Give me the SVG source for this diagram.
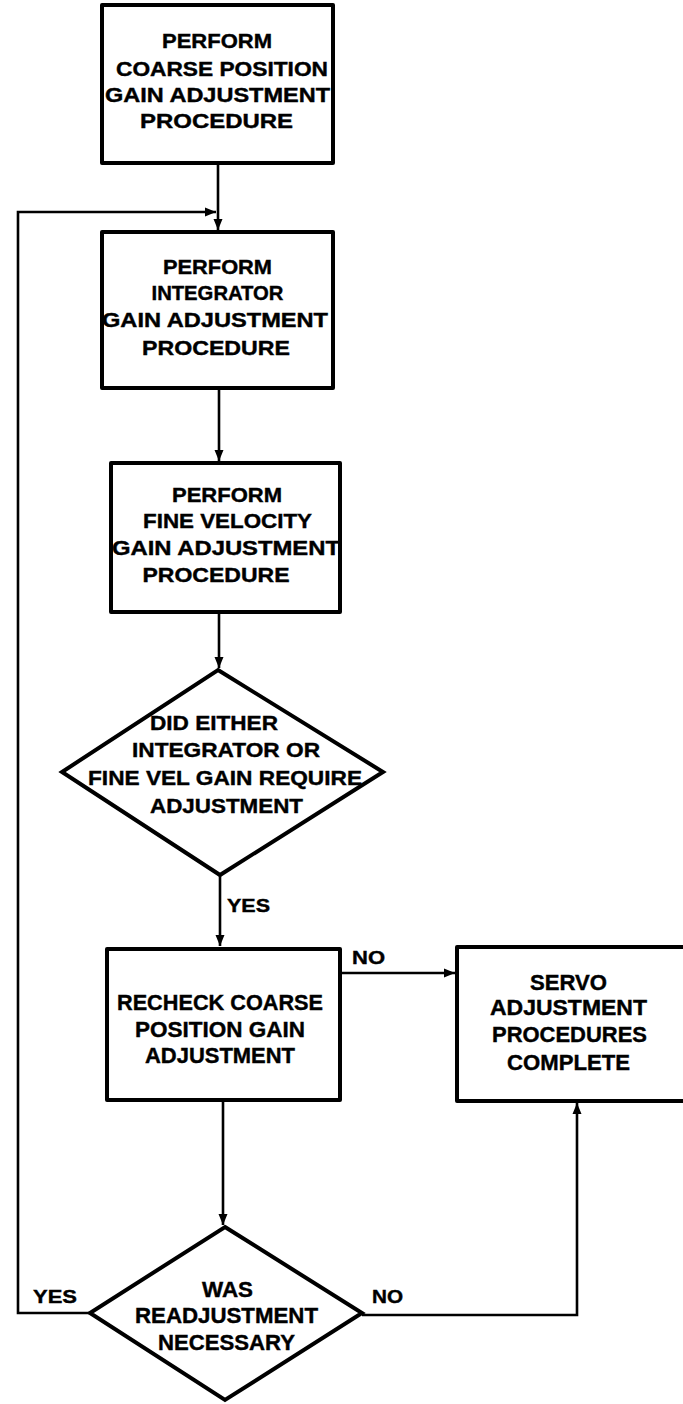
<svg xmlns="http://www.w3.org/2000/svg" width="683" height="1404" viewBox="0 0 683 1404">
<style>
  .box { fill: #fff; stroke: #000; stroke-width: 4; stroke-linejoin: round; }
  .dia { fill: #fff; stroke: #000; stroke-width: 4; stroke-linejoin: miter; }
  .conn { fill: none; stroke: #000; stroke-width: 2.6; }
  text { font-family: "Liberation Sans", Arial, sans-serif; font-weight: bold; fill: #000; stroke: #000; stroke-width: 0.4; }
  .t { font-size: 20px; text-anchor: middle; }
  .t2 { font-size: 22px; text-anchor: middle; }
  .lbl { font-size: 19px; }
</style>
<defs>
  <marker id="arr" markerUnits="userSpaceOnUse" markerWidth="12" markerHeight="11" refX="11" refY="5.5" orient="auto">
    <path d="M0,1 L11,5.5 L0,10 Z" fill="#000"/>
  </marker>
</defs>
<rect width="683" height="1404" fill="#fff"/>

<g id="connectors">
  <path class="conn" d="M218,163 V230" marker-end="url(#arr)"/>
  <path class="conn" d="M90,1313 H18 V212 H216" marker-end="url(#arr)"/>
  <path class="conn" d="M219,388 V461" marker-end="url(#arr)"/>
  <path class="conn" d="M219,612 V668" marker-end="url(#arr)"/>
  <path class="conn" d="M220,875 V946" marker-end="url(#arr)"/>
  <path class="conn" d="M223,1100 V1225" marker-end="url(#arr)"/>
  <path class="conn" d="M340,973 H455" marker-end="url(#arr)"/>
  <path class="conn" d="M362,1315 H577 V1103" marker-end="url(#arr)"/>
</g>

<g id="box1">
  <rect class="box" x="102" y="5" width="231" height="158"/>
  <text class="t" x="217" y="48" textLength="110" lengthAdjust="spacingAndGlyphs">PERFORM</text>
  <text class="t" x="222" y="76" textLength="212" lengthAdjust="spacingAndGlyphs">COARSE POSITION</text>
  <text class="t" x="217.5" y="102" textLength="225" lengthAdjust="spacingAndGlyphs">GAIN ADJUSTMENT</text>
  <text class="t" x="216.5" y="128" textLength="153" lengthAdjust="spacingAndGlyphs">PROCEDURE</text>
</g>

<g id="box2">
  <rect class="box" x="102" y="232" width="231" height="156"/>
  <text class="t" x="217.5" y="274" textLength="109" lengthAdjust="spacingAndGlyphs">PERFORM</text>
  <text class="t" x="217.5" y="300" textLength="132" lengthAdjust="spacingAndGlyphs">INTEGRATOR</text>
  <text class="t" x="215" y="327" textLength="226" lengthAdjust="spacingAndGlyphs">GAIN ADJUSTMENT</text>
  <text class="t" x="216" y="355" textLength="148" lengthAdjust="spacingAndGlyphs">PROCEDURE</text>
</g>

<g id="box3">
  <rect class="box" x="111" y="463" width="229" height="149"/>
  <text class="t" x="227" y="502" textLength="110" lengthAdjust="spacingAndGlyphs">PERFORM</text>
  <text class="t" x="227.5" y="528" textLength="169" lengthAdjust="spacingAndGlyphs">FINE VELOCITY</text>
  <text class="t" x="226" y="555" textLength="228" lengthAdjust="spacingAndGlyphs">GAIN ADJUSTMENT</text>
  <text class="t" x="216" y="582" textLength="147" lengthAdjust="spacingAndGlyphs">PROCEDURE</text>
</g>

<g id="decision1">
  <polygon class="dia" points="218,670 383,772 220,875 62,772"/>
  <text class="t" x="214" y="730" textLength="128" lengthAdjust="spacingAndGlyphs">DID EITHER</text>
  <text class="t" x="226" y="757" textLength="188" lengthAdjust="spacingAndGlyphs">INTEGRATOR  OR</text>
  <text class="t" x="225" y="785" textLength="274" lengthAdjust="spacingAndGlyphs">FINE VEL GAIN REQUIRE</text>
  <text class="t" x="226.5" y="813" textLength="153" lengthAdjust="spacingAndGlyphs">ADJUSTMENT</text>
  <text class="lbl" x="227" y="912" textLength="43" lengthAdjust="spacingAndGlyphs">YES</text>
</g>

<g id="box4">
  <rect class="box" x="107" y="949" width="233" height="151"/>
  <text class="t2" x="220" y="1010" textLength="206" lengthAdjust="spacingAndGlyphs">RECHECK COARSE</text>
  <text class="t2" x="220" y="1037" textLength="170" lengthAdjust="spacingAndGlyphs">POSITION GAIN</text>
  <text class="t2" x="220" y="1063" textLength="150" lengthAdjust="spacingAndGlyphs">ADJUSTMENT</text>
  <text class="lbl" x="352" y="964" textLength="33" lengthAdjust="spacingAndGlyphs">NO</text>
</g>

<g id="servo">
  <rect class="box" x="457" y="947" width="240" height="154"/>
  <text class="t2" x="568.5" y="990" textLength="77" lengthAdjust="spacingAndGlyphs">SERVO</text>
  <text class="t2" x="568.5" y="1015" textLength="157" lengthAdjust="spacingAndGlyphs">ADJUSTMENT</text>
  <text class="t2" x="569.5" y="1042" textLength="155" lengthAdjust="spacingAndGlyphs">PROCEDURES</text>
  <text class="t2" x="568.5" y="1070" textLength="123" lengthAdjust="spacingAndGlyphs">COMPLETE</text>
</g>

<g id="decision2">
  <polygon class="dia" points="225,1227 362,1313 225,1400 90,1313"/>
  <text class="t2" x="227.5" y="1297" textLength="51" lengthAdjust="spacingAndGlyphs">WAS</text>
  <text class="t2" x="226.5" y="1323" textLength="183" lengthAdjust="spacingAndGlyphs">READJUSTMENT</text>
  <text class="t2" x="226.5" y="1350" textLength="137" lengthAdjust="spacingAndGlyphs">NECESSARY</text>
  <text class="lbl" x="33" y="1303" textLength="44" lengthAdjust="spacingAndGlyphs">YES</text>
  <text class="lbl" x="372" y="1303" textLength="31" lengthAdjust="spacingAndGlyphs">NO</text>
</g>
</svg>
